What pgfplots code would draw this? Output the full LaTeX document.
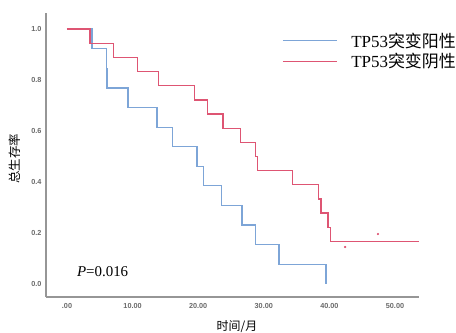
\documentclass[border=0pt]{standalone}
\usepackage{fontspec}
\setmainfont{Liberation Serif}
\newfontfamily\cjk{Noto Sans CJK SC}
\newfontfamily\tickfont{Liberation Sans}
\usepackage{pgfplots}
\pgfplotsset{compat=1.18}
\definecolor{kmblue}{RGB}{125,165,215}
\definecolor{kmred}{RGB}{222,85,115}
\definecolor{axgray}{RGB}{150,150,150}
\definecolor{tickgray}{RGB}{105,105,105}
\begin{document}
\begin{tikzpicture}
\path[use as bounding box] (-46bp,-36bp) rectangle (410bp,297bp);
\begin{axis}[
  scale only axis,
  width=373bp, height=284bp,
  xmin=-3.2, xmax=53.66,
  ymin=-0.051, ymax=1.063,
  axis x line*=bottom, axis y line*=left,
  axis line style={axgray, line width=1.4bp, -},
  major tick length=0pt,
  xtick={0,10,20,30,40,50},
  xticklabels={.00,10.00,20.00,30.00,40.00,50.00},
  ytick={0,0.2,0.4,0.6,0.8,1.0},
  yticklabels={0.0,0.2,0.4,0.6,0.8,1.0},
  ticklabel style={font=\tickfont\bfseries\fontsize{7.3}{8}\selectfont, text=tickgray},
  xticklabel style={yshift=-3bp},
  yticklabel style={xshift=-1bp},
  xlabel={{\cjk 时间/月}},
  xlabel style={font=\fontsize{12}{14}\selectfont, at={(axis description cs:0.512,-0.07)}, anchor=north},
  ylabel={{\cjk 总生存率}},
  ylabel style={font=\fontsize{12.5}{14}\selectfont, at={(axis description cs:-0.06,0.486)}, anchor=south},
  legend style={draw=none, fill=none, at={(axis description cs:0.633,0.934)}, anchor=north west,
    font=\fontsize{17}{19}\selectfont, row sep=2.5bp, column sep=13bp, inner sep=0pt,
    nodes={inner sep=1bp}},
  legend cell align=left,
  legend image code/.code={\draw[#1, line width=1bp] (0bp,0bp) -- (54bp,0bp);},
  clip=false,
]
\addplot[const plot, color=kmblue, line width=1.3bp] coordinates {
(0,1) (3.8,0.923) (6.0,0.846) (6.1,0.769) (9.3,0.692) (13.7,0.615) (16.1,0.538)
(19.8,0.462) (20.8,0.385) (23.6,0.308) (26.7,0.231) (28.7,0.154) (32.3,0.077) (39.5,0)};
\addlegendentry{TP53{\cjk 突变阳性}}
\addplot[const plot, color=kmred, line width=1.3bp] coordinates {
(0,1) (3.5,0.944) (7.1,0.889) (10.8,0.833) (13.9,0.778) (19.4,0.722) (21.4,0.667)
(23.8,0.611) (26.4,0.556) (28.7,0.5) (29.0,0.444) (34.4,0.389) (38.3,0.333)
(38.7,0.278) (39.8,0.222) (40.2,0.167) (53.7,0.167)};
\addlegendentry{TP53{\cjk 突变阴性}}
\addplot[only marks, mark=*, mark size=0.9bp, color=kmred, forget plot] coordinates {(42.4,0.145) (47.4,0.196)};
\node[anchor=base west, font=\fontsize{15}{17}\selectfont, inner sep=0pt] at (axis cs:1.5,0.03) {\textit{P}=0.016};
\end{axis}
\end{tikzpicture}
\end{document}
